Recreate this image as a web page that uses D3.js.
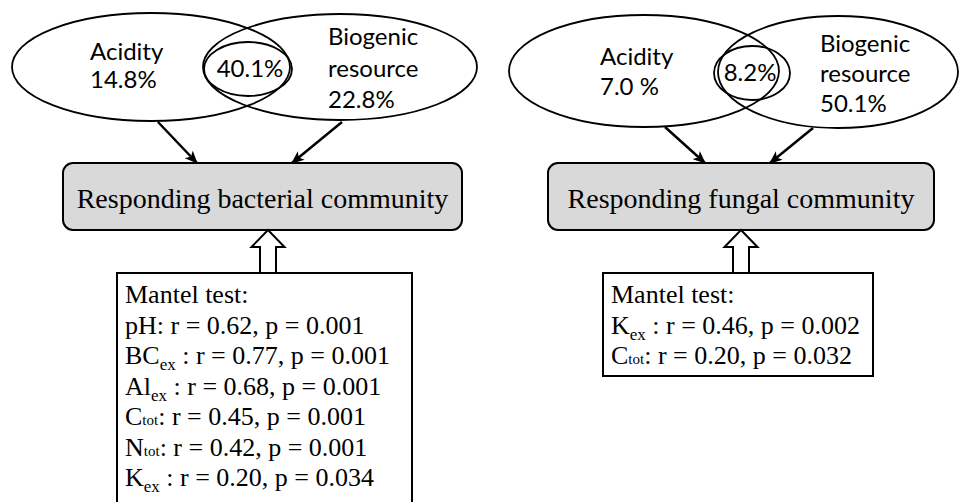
<!DOCTYPE html>
<html>
<head>
<meta charset="utf-8">
<script src="https://cdn.jsdelivr.net/npm/d3@7"></script>
<style>
  body { margin: 0; background: #fff; }
  svg { display: block; }
</style>
</head>
<body>
<svg width="961" height="502"></svg>
<script>
// explained variation (%) for each community
var communities = ["bacterial", "fungal"];
var acidityPct = [14.8, 7.0];
var sharedPct = [40.1, 8.2];
var biogenicPct = [22.8, 50.1];

// mantel tests: [name, subscript]
var bactVars = [["pH", ""], ["BC", "ex"], ["Al", "ex"], ["C", "tot"], ["N", "tot"], ["K", "ex"]];
var bactR = [0.62, 0.77, 0.68, 0.45, 0.42, 0.20];
var bactP = [0.001, 0.001, 0.001, 0.001, 0.001, 0.034];

var fungVars = [["K", "ex"], ["C", "tot"]];
var fungR = [0.46, 0.20];
var fungP = [0.002, 0.032];

var loadVis = function() {

    var svg = d3.select("svg");
    var serif = "'Liberation Serif', 'Times New Roman', serif";
    var sans = "Lato, Carlito, Calibri, sans-serif";
    var fmtR = d3.format(".2f"), fmtP = d3.format(".3f"), fmtPct = d3.format(".1f");

    svg.append("defs").append("marker")
        .attr("id", "head")
        .attr("viewBox", "0 0 12 10")
        .attr("refX", 11).attr("refY", 5)
        .attr("markerWidth", 13).attr("markerHeight", 11)
        .attr("markerUnits", "userSpaceOnUse")
        .attr("orient", "auto")
      .append("path")
        .attr("d", "M0,0 L12,5 L0,10 L3,5 Z")
        .attr("fill", "#000");

    var panels = [
        {
            left: {cx: 151, cy: 67, rx: 139, ry: 54},
            right: {cx: 340, cy: 67, rx: 137, ry: 53},
            mid: {cx: 248, cy: 69, rx: 44, ry: 27},
            acid: {x: 90, y: [60, 88]},
            bio: {x: 328, y: [45, 77, 108]},
            midText: {x: 250, y: 77},
            arrows: [[[158, 122], [197, 163]], [[342, 122], [292, 163]]],
            box: {x: 63, y: 163, w: 399, h: 67},
            hollow: 268,
            mantel: {x: 117, y: 273, w: 295, h: 250},
            vars: bactVars, r: bactR, p: bactP, sep: "%"
        },
        {
            left: {cx: 644, cy: 71, rx: 135, ry: 56},
            right: {cx: 838, cy: 72, rx: 120, ry: 56},
            mid: {cx: 752, cy: 73, rx: 38, ry: 27},
            acid: {x: 600, y: [65, 95]},
            bio: {x: 820, y: [52, 82, 112]},
            midText: {x: 750, y: 81},
            arrows: [[[665, 127], [705, 163]], [[813, 128], [770, 163]]],
            box: {x: 548, y: 163, w: 386, h: 67},
            hollow: 741,
            mantel: {x: 603, y: 273, w: 270, h: 103},
            vars: fungVars, r: fungR, p: fungP, sep: " %"
        }
    ];

    panels.forEach(function(pn, i) {
        var g = svg.append("g");

        g.selectAll("ellipse.venn")
            .data([pn.left, pn.right, pn.mid])
            .enter().append("ellipse")
                .attr("class", "venn")
                .attr("cx", function(d) { return d.cx; })
                .attr("cy", function(d) { return d.cy; })
                .attr("rx", function(d) { return d.rx; })
                .attr("ry", function(d) { return d.ry; })
                .attr("fill", "none")
                .attr("stroke", "#000")
                .attr("stroke-width", 1.8);

        var acidLines = ["Acidity", fmtPct(acidityPct[i]) + pn.sep];
        var bioLines = ["Biogenic", "resource", fmtPct(biogenicPct[i]) + "%"];

        g.selectAll("text.acid")
            .data(acidLines)
            .enter().append("text")
                .attr("class", "acid")
                .attr("x", pn.acid.x)
                .attr("y", function(d, k) { return pn.acid.y[k]; })
                .style("font-family", sans).style("font-size", "24px")
                .text(function(d) { return d; });

        g.selectAll("text.bio")
            .data(bioLines)
            .enter().append("text")
                .attr("class", "bio")
                .attr("x", pn.bio.x)
                .attr("y", function(d, k) { return pn.bio.y[k]; })
                .style("font-family", sans).style("font-size", "24px")
                .text(function(d) { return d; });

        g.append("text")
            .attr("x", pn.midText.x).attr("y", pn.midText.y)
            .attr("text-anchor", "middle")
            .style("font-family", sans).style("font-size", "24px")
            .text(fmtPct(sharedPct[i]) + "%");

        g.selectAll("line.arrow")
            .data(pn.arrows)
            .enter().append("line")
                .attr("class", "arrow")
                .attr("x1", function(d) { return d[0][0]; })
                .attr("y1", function(d) { return d[0][1]; })
                .attr("x2", function(d) { return d[1][0]; })
                .attr("y2", function(d) { return d[1][1]; })
                .attr("stroke", "#000")
                .attr("stroke-width", 2.5)
                .attr("marker-end", "url(#head)");

        g.append("rect")
            .attr("x", pn.box.x).attr("y", pn.box.y)
            .attr("width", pn.box.w).attr("height", pn.box.h)
            .attr("rx", 10).attr("ry", 10)
            .attr("fill", "#d9d9d9")
            .attr("stroke", "#000")
            .attr("stroke-width", 2);

        g.append("text")
            .attr("x", pn.box.x + pn.box.w / 2)
            .attr("y", pn.box.y + 45)
            .attr("text-anchor", "middle")
            .style("font-family", serif).style("font-size", "28px")
            .text("Responding " + communities[i] + " community");

        // hollow arrow from mantel box up to the community box
        var c = pn.hollow, top = pn.box.y + pn.box.h, neck = top + 17, bot = pn.mantel.y;
        g.append("path")
            .attr("d", "M" + c + "," + top + " L" + (c + 16.5) + "," + neck + " L" + (c + 8) + "," + neck +
                " L" + (c + 8) + "," + bot + " L" + (c - 8) + "," + bot + " L" + (c - 8) + "," + neck +
                " L" + (c - 16.5) + "," + neck + " Z")
            .attr("fill", "#fff")
            .attr("stroke", "#000")
            .attr("stroke-width", 2);

        g.append("rect")
            .attr("x", pn.mantel.x).attr("y", pn.mantel.y)
            .attr("width", pn.mantel.w).attr("height", pn.mantel.h)
            .attr("fill", "#fff")
            .attr("stroke", "#000")
            .attr("stroke-width", 2);

        var rowY = d3.scaleLinear()
            .domain([0, 1])
            .range([pn.mantel.y + 30, pn.mantel.y + 60.5]);

        var tx = pn.mantel.x + 8;

        g.append("text")
            .attr("x", tx).attr("y", rowY(0))
            .style("font-family", serif).style("font-size", "26px")
            .text("Mantel test:");

        var rows = g.selectAll("text.row")
            .data(pn.vars)
            .enter().append("text")
                .attr("class", "row")
                .attr("x", tx)
                .attr("y", function(d, k) { return rowY(k + 1); })
                .style("font-family", serif).style("font-size", "26px");

        rows.each(function(d, k) {
            var t = d3.select(this);
            t.append("tspan").text(d[0]);
            if (d[1] === "ex") {
                t.append("tspan").attr("dy", 6).style("font-size", "17px").text("ex");
                t.append("tspan").attr("dy", -6).text(" ");
            } else if (d[1] === "tot") {
                t.append("tspan").style("font-size", "15px").text("tot");
            }
            t.append("tspan").text(": r = " + fmtR(pn.r[k]) + ", p = " + fmtP(pn.p[k]));
        });
    });
};

document.addEventListener('DOMContentLoaded', loadVis, false);
</script>
</body>
</html>
